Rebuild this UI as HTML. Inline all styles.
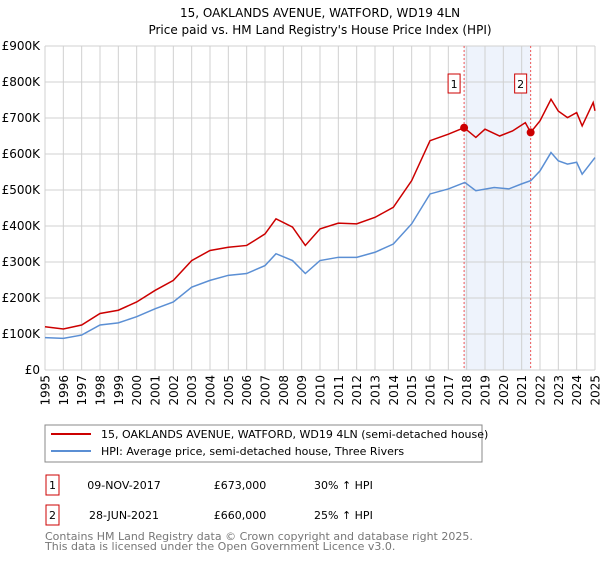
<!DOCTYPE html>
<html><head><meta charset="utf-8"><style>
body{margin:0;background:#fff;font-family:"DejaVu Sans","Liberation Sans",sans-serif;}
svg text{font-family:"DejaVu Sans","Liberation Sans",sans-serif;}
</style></head><body>
<svg id="chart" width="600" height="560" viewBox="0 0 600 560" xmlns="http://www.w3.org/2000/svg">
<text x="320" y="17" text-anchor="middle" font-size="12">15, OAKLANDS AVENUE, WATFORD, WD19 4LN</text>
<text x="320" y="34" text-anchor="middle" font-size="12">Price paid vs. HM Land Registry's House Price Index (HPI)</text>
<g id="grid"></g>
<g id="marks"></g>
<g id="axes"></g>
<rect x="45" y="425" width="437" height="37" fill="#fff" stroke="#888"/>
<line x1="51" y1="434" x2="91" y2="434" stroke="#cc0000" stroke-width="2"/>
<text x="101" y="438" font-size="11">15, OAKLANDS AVENUE, WATFORD, WD19 4LN (semi-detached house)</text>
<line x1="51" y1="451" x2="91" y2="451" stroke="#5b8fd4" stroke-width="2"/>
<text x="101" y="455" font-size="11">HPI: Average price, semi-detached house, Three Rivers</text>
<g>
<rect x="46" y="475" width="13" height="20" fill="#fff" stroke="#cc0000"/>
<text x="52.5" y="489" text-anchor="middle" font-size="11">1</text>
<text x="124" y="489" text-anchor="middle" font-size="11">09-NOV-2017</text>
<text x="240" y="489" text-anchor="middle" font-size="11">£673,000</text>
<text x="314" y="489" font-size="11">30% ↑ HPI</text>
</g>
<g>
<rect x="46" y="505" width="13" height="20" fill="#fff" stroke="#cc0000"/>
<text x="52.5" y="519" text-anchor="middle" font-size="11">2</text>
<text x="124" y="519" text-anchor="middle" font-size="11">28-JUN-2021</text>
<text x="240" y="519" text-anchor="middle" font-size="11">£660,000</text>
<text x="314" y="519" font-size="11">25% ↑ HPI</text>
</g>
<text x="45" y="540" font-size="11" fill="#777">Contains HM Land Registry data © Crown copyright and database right 2025.</text>
<text x="45" y="550" font-size="11" fill="#777">This data is licensed under the Open Government Licence v3.0.</text>
</svg>
<script>
const yTicks=[0,100000,200000,300000,400000,500000,600000,700000,800000,900000];
const yTickLabels=["£0","£100K","£200K","£300K","£400K","£500K","£600K","£700K","£800K","£900K"];
const xYears=[1995,1996,1997,1998,1999,2000,2001,2002,2003,2004,2005,2006,2007,2008,2009,2010,2011,2012,2013,2014,2015,2016,2017,2018,2019,2020,2021,2022,2023,2024,2025];
const hpiDates=[1995,1996,1997,1998,1999,2000,2001,2002,2003,2004,2005,2006,2007,2007.6,2008.5,2009.2,2010,2011,2012,2013,2014,2015,2016,2017,2017.9,2018.5,2019.5,2020.3,2021,2021.5,2022,2022.6,2023,2023.5,2024,2024.3,2025];
const hpiValues=[90000,88000,97000,125000,131000,148000,170000,189000,230000,249000,263000,268000,290000,323000,304000,268000,304000,313000,313000,327000,350000,406000,489000,503000,521000,498000,507000,503000,517000,526000,553000,604000,581000,572000,577000,544000,590000];
const propDates=[1995,1996,1997,1998,1999,2000,2001,2002,2003,2004,2005,2006,2007,2007.6,2008.5,2009.2,2010,2011,2012,2013,2014,2015,2016,2017,2017.86,2018.5,2019,2019.8,2020.5,2021.2,2021.49,2022,2022.6,2023,2023.5,2024,2024.3,2024.9,2025];
const propValues=[120000,114000,125000,157000,166000,189000,221000,249000,304000,332000,341000,346000,378000,420000,397000,346000,392000,408000,406000,424000,452000,526000,637000,655000,673000,646000,669000,650000,664000,687000,660000,692000,752000,719000,701000,715000,678000,743000,720000];
const saleDates=[2017.86,2021.49];
const saleValues=[673000,660000];
const saleLabels=["1","2"];

const NS="http://www.w3.org/2000/svg";
const X0=45,X1=595,Y0=370,Y1=46;
const xs=d=>X0+(d-1995)/30*(X1-X0);
const ys=v=>Y0-v/900000*(Y0-Y1);
function mk(tag,attrs,parent){const e=document.createElementNS(NS,tag);for(const k in attrs)e.setAttribute(k,attrs[k]);parent.appendChild(e);return e;}
const grid=document.getElementById('grid'),marks=document.getElementById('marks'),axes=document.getElementById('axes');
const sh=mk('rect',{x:xs(saleDates[0]),y:Y1,width:xs(saleDates[1])-xs(saleDates[0]),height:Y0-Y1,fill:'#eef3fc'},grid);


xYears.forEach(y=>{const l=mk('line',{x1:xs(y),x2:xs(y),y1:Y1,y2:Y0,stroke:'#d0d0d0','stroke-width':1},grid);


const t=mk('text',{x:0,y:0,'font-size':12,'text-anchor':'end',transform:`translate(${xs(y)+4.5},${Y0+5}) rotate(-90)`},axes);t.textContent=y;

});
yTicks.forEach((v,i)=>{const l=mk('line',{x1:X0,x2:X1,y1:ys(v),y2:ys(v),stroke:'#d0d0d0','stroke-width':1},grid);


const t=mk('text',{x:40,y:ys(v)+4,'font-size':12,'text-anchor':'end'},axes);t.textContent=yTickLabels[i];

});
saleDates.forEach((d,i)=>{const l=mk('line',{x1:xs(d),x2:xs(d),y1:Y1,y2:Y0,stroke:'#ee5555','stroke-dasharray':'2,2','stroke-width':1},grid);


const bx=xs(d)-10;
const r=mk('rect',{x:bx-6,y:74,width:12,height:19,fill:'#fff',stroke:'#cc0000'},axes);


const t=mk('text',{x:bx,y:88,'font-size':11,'text-anchor':'middle'},axes);t.textContent=saleLabels[i];

});
const hp=mk('polyline',{points:hpiDates.map((d,i)=>xs(d)+','+ys(hpiValues[i])).join(' '),fill:'none',stroke:'#5b8fd4','stroke-width':1.5},marks);


const pp=mk('polyline',{points:propDates.map((d,i)=>xs(d)+','+ys(propValues[i])).join(' '),fill:'none',stroke:'#cc0000','stroke-width':1.5},marks);


saleDates.forEach((d,i)=>{const c=mk('circle',{cx:xs(d),cy:ys(saleValues[i]),r:4,fill:'#cc0000'},marks);

});
</script>
</body></html>
